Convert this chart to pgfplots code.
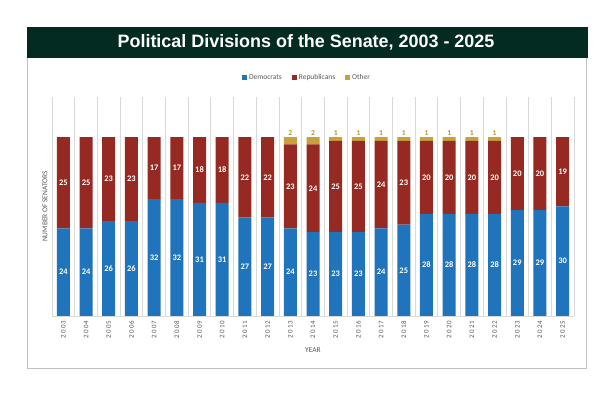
\documentclass[border=0pt]{standalone}
\usepackage{pgfplots}
\pgfplotsset{compat=1.18}
\usepackage{pgfplotstable}
\usepackage{fontspec}
\setmainfont{Carlito}
\newfontfamily\titlefont{Liberation Sans}
\newfontfamily\tickfont[LetterSpace=20]{Carlito}
\definecolor{dem}{HTML}{1F74BB}
\definecolor{rep}{HTML}{962A22}
\definecolor{oth}{HTML}{C9A13B}
\definecolor{othtxt}{HTML}{B8902E}
\definecolor{titlebg}{HTML}{032B22}
\definecolor{gridc}{HTML}{D9D9D9}
\definecolor{boxc}{HTML}{BFBFBF}
\definecolor{txt}{HTML}{595959}

\pgfplotstableread{
i year dem rep oth
0 2003 24 25 0
1 2004 24 25 0
2 2005 26 23 0
3 2006 26 23 0
4 2007 32 17 0
5 2008 32 17 0
6 2009 31 18 0
7 2010 31 18 0
8 2011 27 22 0
9 2012 27 22 0
10 2013 24 23 2
11 2014 23 24 2
12 2015 23 25 1
13 2016 23 25 1
14 2017 24 24 1
15 2018 25 23 1
16 2019 28 20 1
17 2020 28 20 1
18 2021 28 20 1
19 2022 28 20 1
20 2023 29 20 0
21 2024 29 20 0
22 2025 30 19 0
}\senate

\pgfplotsset{common/.style={
  at={(52bp,80bp)}, anchor=south west,
  scale only axis, width=522bp, height=219bp,
  xmin=-0.5, xmax=22.5, ymin=0, ymax=60,
  /pgf/number format/assume math mode=true,
  clip=false,
}}

\begin{document}
\begin{tikzpicture}
\path[use as bounding box, fill=white] (0,0) rectangle (612bp,396bp);
\draw[boxc, line width=0.8bp] (27bp,338bp) -- (27bp,28bp) -- (586bp,28bp) -- (586bp,338bp);
\fill[titlebg] (27bp,338bp) rectangle (588bp,369bp);
\node[white, font=\titlefont\bfseries\fontsize{18}{20}\selectfont] at (306bp,353.5bp) {Political Divisions of the Senate, 2003 - 2025};
\begin{axis}[
  common,
  ybar stacked, bar width=13bp,
  axis lines*=left,
  y axis line style={draw=none},
  x axis line style={draw=gridc, line width=0.8bp},
  ytick=\empty,
  xtick={0,...,22},
  xticklabels={2003,2004,2005,2006,2007,2008,2009,2010,2011,2012,2013,2014,2015,2016,2017,2018,2019,2020,2021,2022,2023,2024,2025},
  major tick length=0pt,
  minor xtick={-0.5,0.5,...,22.5},
  minor tick length=0pt,
  xminorgrids,
  minor grid style={draw=gridc, line width=0.8bp},
  xticklabel style={rotate=90, anchor=east, font=\tickfont\fontsize{7}{8}\selectfont, text=txt, xshift=-1bp},
  xlabel={YEAR},
  xlabel style={at={(axis description cs:0.5,0)}, anchor=center, yshift=-34bp, font=\fontsize{7.5}{9}\selectfont, text=txt},
  legend columns=3,
  legend style={at={(0.5,1)}, anchor=center, yshift=19bp, xshift=-6bp, draw=none, fill=none,
     font=\fontsize{7.5}{9}\selectfont, text=txt,
     /tikz/every even column/.append style={column sep=8bp}},
  legend image code/.code={\fill[#1] (0bp,-2.5bp) rectangle (5bp,2.5bp);},
]
\addplot[fill=dem, draw=none] table[x=i, y=dem] {\senate};
\addplot[fill=rep, draw=none] table[x=i, y=rep] {\senate};
\addplot[fill=oth, draw=none] table[x=i, y=oth] {\senate};
\legend{Democrats, Republicans, Other}
\node[rotate=90, text=txt, font=\fontsize{7.5}{9}\selectfont] at ([xshift=-7bp]rel axis cs:0,0.5) {NUMBER OF SENATORS};
\end{axis}
\begin{axis}[common, hide axis]
\addplot[draw=none, mark=none,
  visualization depends on={\thisrow{dem} \as \val},
  nodes near coords={\pgfmathprintnumber{\val}},
  every node near coord/.append style={anchor=center, text=white, font=\bfseries\fontsize{8.5}{9}\selectfont},
] table[x=i, y expr={\thisrow{dem}/2}] {\senate};
\addplot[draw=none, mark=none,
  visualization depends on={\thisrow{rep} \as \val},
  nodes near coords={\pgfmathprintnumber{\val}},
  every node near coord/.append style={anchor=center, text=white, font=\bfseries\fontsize{8.5}{9}\selectfont},
] table[x=i, y expr={\thisrow{dem}+\thisrow{rep}/2}] {\senate};
\addplot[draw=none, mark=none,
  visualization depends on={\thisrow{oth} \as \val},
  nodes near coords={\ifdim\val pt>0pt\pgfmathprintnumber{\val}\fi},
  every node near coord/.append style={anchor=south, text=othtxt, font=\bfseries\fontsize{7.5}{9}\selectfont, inner sep=1.5bp},
] table[x=i, y expr={\thisrow{dem}+\thisrow{rep}+\thisrow{oth}}] {\senate};
\end{axis}
\end{tikzpicture}
\end{document}
